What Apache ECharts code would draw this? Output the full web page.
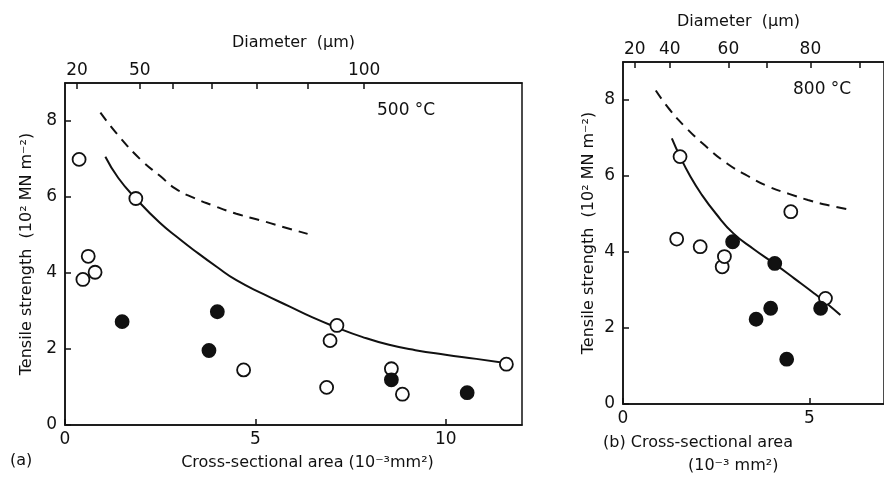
<!DOCTYPE html>
<html>
<head>
<meta charset="utf-8">
<script src="https://cdn.jsdelivr.net/npm/echarts@6/dist/echarts.min.js"></script>
<style>
  html, body { margin: 0; padding: 0; background: #fff; }
  #chart { width: 884px; height: 480px; }
</style>
</head>
<body>
<div id="chart"></div>
<script>
// (a) 500 °C  -- [area (10^-3 mm2), strength (10^2 MN m^-2)]
var openA = [[0.37, 6.99], [0.47, 3.83], [0.61, 4.44], [0.79, 4.02], [1.86, 5.96], [4.69, 1.45],
  [6.87, 0.99], [6.96, 2.22], [7.14, 2.62], [8.57, 1.48], [8.86, 0.81], [11.59, 1.6]];
var filledA = [[1.5, 2.72], [3.78, 1.96], [4.0, 2.98], [8.57, 1.19], [10.56, 0.85]];
var solidA = [[1.06, 7.06], [1.4, 6.5], [1.86, 5.96], [2.49, 5.32], [3.0, 4.9], [3.36, 4.62], [4.0, 4.15],
  [4.5, 3.81], [5.2, 3.45], [5.89, 3.12], [6.5, 2.83], [7.15, 2.56], [7.8, 2.32], [8.51, 2.11],
  [9.2, 1.97], [9.99, 1.85], [10.8, 1.74], [11.56, 1.63]];
var dashA = [[0.93, 8.22], [1.4, 7.62], [2.0, 6.97], [2.5, 6.55], [2.9, 6.22], [3.4, 5.97], [3.85, 5.79],
  [4.5, 5.56], [5.12, 5.39], [5.7, 5.22], [6.37, 5.03]];

// (b) 800 °C
var openB = [[1.53, 6.51], [1.44, 4.34], [2.07, 4.14], [2.66, 3.61], [2.72, 3.88], [4.5, 5.06], [5.43, 2.78]];
var filledB = [[2.94, 4.27], [3.57, 2.23], [3.96, 2.52], [4.07, 3.7], [4.39, 1.18], [5.3, 2.52]];
var solidB = [[1.31, 6.99], [1.53, 6.51], [1.8, 6.0], [2.09, 5.54], [2.5, 5.0], [2.96, 4.49], [3.5, 4.08],
  [4.05, 3.7], [4.6, 3.3], [5.13, 2.91], [5.5, 2.62], [5.83, 2.34]];
var dashB = [[0.88, 8.25], [1.25, 7.75], [1.66, 7.3], [2.2, 6.8], [2.79, 6.33], [3.35, 6.0], [3.91, 5.72],
  [4.45, 5.53], [4.96, 5.37], [5.55, 5.22], [6.17, 5.1]];

// tick labels
var areaTicks = [0, 5, 10];
var strengthTicks = [0, 2, 4, 6, 8];
var diamTicksA = [20, 50, 60, 70, 80, 90, 100];
var diamLabelsA = [20, 50, 100];
var diamTicksB = [20, 40, 60, 70, 80, 90];
var diamLabelsB = [20, 40, 60, 80];

// diameter (um) <-> area (10^-3 mm2)
function toArea(d) { return Math.PI * d * d / 4000; }
function toDiam(a) { return Math.round(Math.sqrt(a * 4000 / Math.PI)); }

var FONT = 'DejaVu Sans';
var INK = '#111';

function bottomAxis(grid, max, name) {
  return {
    type: 'value', gridIndex: grid, position: 'bottom', min: 0, max: max,
    axisLine: { lineStyle: { color: INK, width: 1.5 } },
    axisTick: { inside: true, length: 6, customValues: areaTicks, lineStyle: { color: INK, width: 1.5 } },
    axisLabel: { customValues: areaTicks, margin: 6, color: INK, fontFamily: FONT, fontSize: 17 },
    splitLine: { show: false },
    name: name, nameLocation: 'middle', nameGap: 30,
    nameTextStyle: { color: INK, fontFamily: FONT, fontSize: 16, padding: [0, 0, 0, 28] }
  };
}

function topAxis(grid, max, ticks, labels, pad) {
  return {
    type: 'value', gridIndex: grid, position: 'top', min: 0, max: max,
    axisLine: { lineStyle: { color: INK, width: 1.5 } },
    axisTick: { inside: true, length: 6, customValues: ticks.map(toArea), lineStyle: { color: INK, width: 1.5 } },
    axisLabel: {
      customValues: labels.map(toArea), margin: 4, color: INK, fontFamily: FONT, fontSize: 17,
      formatter: function (v) { return toDiam(v); }
    },
    splitLine: { show: false },
    name: 'Diameter  (\u00b5m)', nameLocation: 'middle', nameGap: 32,
    nameTextStyle: { color: INK, fontFamily: FONT, fontSize: 16, padding: pad }
  };
}

function leftAxis(grid, gap) {
  return {
    type: 'value', gridIndex: grid, min: 0, max: 9,
    axisLine: { lineStyle: { color: INK, width: 1.5 } },
    axisTick: { inside: true, length: 6, customValues: strengthTicks, lineStyle: { color: INK, width: 1.5 } },
    axisLabel: { customValues: strengthTicks, margin: 8, color: INK, fontFamily: FONT, fontSize: 17 },
    splitLine: { show: false },
    name: 'Tensile strength  (10\u00b2 MN m\u207b\u00b2)', nameLocation: 'middle', nameGap: gap,
    nameTextStyle: { color: INK, fontFamily: FONT, fontSize: 16 }
  };
}

function curve(xi, data, dashed) {
  return {
    type: 'line', xAxisIndex: xi, yAxisIndex: xi === 0 ? 0 : 1, data: data,
    smooth: true, showSymbol: false, silent: true,
    lineStyle: { color: INK, width: 2, type: dashed ? [10, 7] : 'solid' }
  };
}

function dots(xi, data, filled) {
  return {
    type: 'scatter', xAxisIndex: xi, yAxisIndex: xi === 0 ? 0 : 1, data: data,
    symbol: 'circle', symbolSize: 13, z: 5,
    itemStyle: { color: filled ? INK : '#fff', borderColor: INK, borderWidth: 1.8, opacity: 1 }
  };
}

var chart = echarts.init(document.getElementById('chart'), null, { renderer: 'canvas' });

chart.setOption({
  backgroundColor: '#fff',
  animation: false,
  grid: [
    { left: 65, top: 83, width: 457, height: 342, show: true, borderColor: INK, borderWidth: 1.5 },
    { left: 623, top: 62, width: 269, height: 342, show: true, borderColor: INK, borderWidth: 1.5 }
  ],
  xAxis: [
    bottomAxis(0, 12, 'Cross-sectional area (10\u207b\u00b3mm\u00b2)'),
    bottomAxis(1, 7, ''),
    topAxis(0, 12, diamTicksA, diamLabelsA, [0, 0, 0, 0]),
    topAxis(1, 7, diamTicksB, diamLabelsB, [0, 30, 0, 0])
  ],
  yAxis: [leftAxis(0, 30), leftAxis(1, 26)],
  series: [
    curve(0, solidA, false),
    curve(0, dashA, true),
    curve(1, solidB, false),
    curve(1, dashB, true),
    dots(0, openA, false),
    dots(0, filledA, true),
    dots(1, openB, false),
    dots(1, filledB, true)
  ],
  graphic: [
    { type: 'text', left: 377, top: 102, style: { text: '500 \u00b0C', fill: INK, font: '17px "DejaVu Sans"' } },
    { type: 'text', left: 793, top: 81, style: { text: '800 \u00b0C', fill: INK, font: '17px "DejaVu Sans"' } },
    { type: 'text', left: 10, top: 453, style: { text: '(a)', fill: INK, font: '16px "DejaVu Sans"' } },
    { type: 'text', left: 603, top: 435, style: { text: '(b) Cross-sectional area', fill: INK, font: '16px "DejaVu Sans"' } },
    { type: 'text', left: 688, top: 458, style: { text: '(10\u207b\u00b3 mm\u00b2)', fill: INK, font: '16px "DejaVu Sans"' } }
  ]
});
</script>
</body>
</html>
